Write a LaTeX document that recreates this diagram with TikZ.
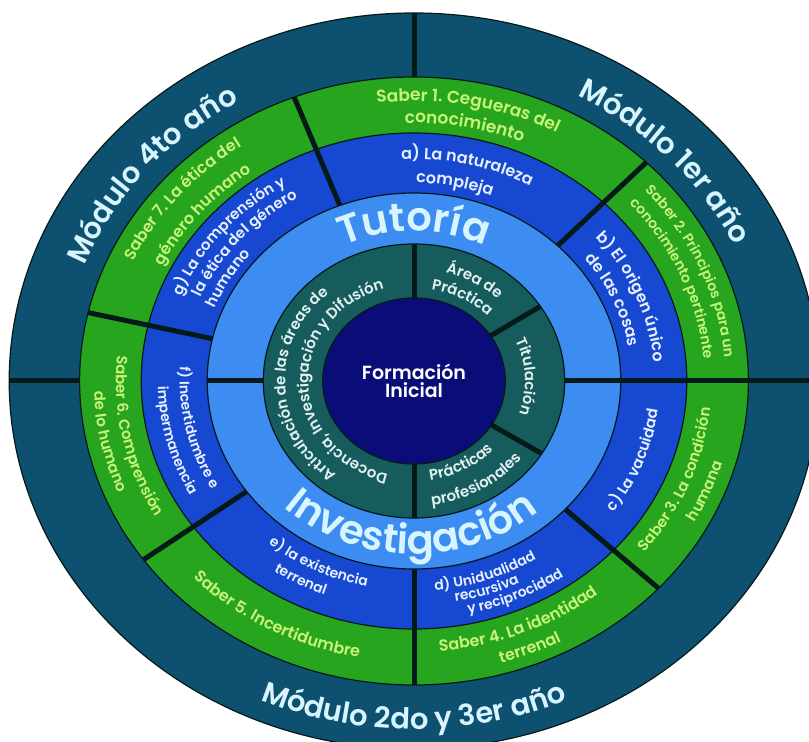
\documentclass[tikz,border=0pt]{standalone}
\usepackage{fontspec}
\setmainfont{Poppins}[BoldFont=*-SemiBold]
\usetikzlibrary{decorations.text}
\definecolor{modulo}{RGB}{14,80,112}
\definecolor{saber}{RGB}{40,165,30}
\definecolor{contenido}{RGB}{22,72,210}
\definecolor{eje}{RGB}{60,140,242}
\definecolor{area}{RGB}{22,92,92}
\definecolor{nucleo}{RGB}{10,12,120}
\definecolor{linea}{RGB}{4,26,24}
\definecolor{modtxt}{RGB}{215,245,255}
\definecolor{sabtxt}{RGB}{200,245,120}
\definecolor{conttxt}{RGB}{230,240,255}
\definecolor{ejetxt}{RGB}{215,245,255}
\definecolor{areatxt}{RGB}{225,240,240}
\tikzset{divisor/.style={line width=5pt,draw=linea}}
\begin{document}
\begin{tikzpicture}[x=1pt,y=1pt,line join=round]
\def\rA{83} \def\rB{137} \def\rC{188} \def\rD{248} \def\rE{304} \def\rF{368}
\def\arctxt#1#2#3#4#5#6{\path[decorate,decoration={text along path,text align=center,text color=#5,text={|\fontsize{#4}{#4}\selectfont\bfseries|#6}}] (#2:#1) arc[start angle=#2,end angle=#3,radius=#1];}
\useasboundingbox (0,0) rectangle (809,742);
\clip (0,0) rectangle (809,742);
\begin{scope}[shift={(414,361)},xscale=1.1]
\foreach \rad/\col in {\rF/modulo,\rE/saber,\rD/contenido,\rC/eje,\rB/area,\rA/nucleo}
  \filldraw[fill=\col,draw=linea,line width=1.2pt] (0,0) circle(\rad);
\foreach \a/\ri/\ro in {0/\rB/\rF,180/\rB/\rC,180/\rE/\rF,90/\rE/\rF,111/\rC/\rE,46/\rC/\rE,-43/\rC/\rE,-90/\rC/\rE,216/\rC/\rE,167/\rC/\rE,90/\rA/\rB,33/\rA/\rB,-32/\rA/\rB,-90/\rA/\rB}
  \draw[divisor] (\a:\ri)--(\a:\ro);
\arctxt{321}{80}{6}{29}{modtxt}{Módulo 1er año}
\arctxt{321}{177}{103}{29}{modtxt}{Módulo 4to año}
\arctxt{348}{225}{315}{29}{modtxt}{Módulo 2do y 3er año}
\arctxt{280}{110}{49}{17}{sabtxt}{Saber 1. Cegueras del}
\arctxt{258}{110}{49}{17}{sabtxt}{conocimiento}
\arctxt{283}{58}{-12}{14}{sabtxt}{Saber 2. Principios para un}
\arctxt{264}{58}{-12}{14}{sabtxt}{conocimiento pertinente}
\arctxt{271}{-57}{13}{15}{sabtxt}{Saber 3. La condición}
\arctxt{292}{-57}{13}{15}{sabtxt}{humana}
\arctxt{271}{-103}{-33}{16}{sabtxt}{Saber 4. La identidad}
\arctxt{293}{-103}{-33}{16}{sabtxt}{terrenal}
\arctxt{281}{205}{278}{16}{sabtxt}{Saber 5. Incertidumbre}
\arctxt{271}{157}{227}{15}{sabtxt}{Saber 6. Comprensión}
\arctxt{291}{157}{227}{15}{sabtxt}{de lo humano}
\arctxt{282}{175}{105}{16}{sabtxt}{Saber 7. La ética del}
\arctxt{256}{175}{105}{16}{sabtxt}{género humano}
\arctxt{222}{112}{42}{16}{conttxt}{a) La naturaleza}
\arctxt{198}{114}{44}{16}{conttxt}{compleja}
\arctxt{219}{58}{-13}{16}{conttxt}{b) El origen único}
\arctxt{198}{59}{-12}{16}{conttxt}{de las cosas}
\arctxt{224}{-56}{14}{15}{conttxt}{c) La vacuidad}
\arctxt{210}{-106}{-36}{14}{conttxt}{d) Unidualidad}
\arctxt{224}{-107}{-37}{14}{conttxt}{recursiva}
\arctxt{238}{-101}{-31}{14}{conttxt}{y reciprocidad}
\arctxt{210}{209}{279}{14}{conttxt}{e) la existencia}
\arctxt{229}{207}{277}{14}{conttxt}{terrenal}
\arctxt{213}{158}{228}{14}{conttxt}{f) Incertidumbre e}
\arctxt{233}{160}{230}{14}{conttxt}{impermanencia}
\arctxt{228}{175}{105}{15}{conttxt}{g) La comprensión y}
\arctxt{211}{174}{104}{15}{conttxt}{la ética del género}
\arctxt{195}{185}{114}{15}{conttxt}{humano}
\arctxt{150}{150}{30}{40}{ejetxt}{Tutoría}
\arctxt{173}{204}{334}{40}{ejetxt}{Investigación}
\arctxt{117}{270}{94}{15}{areatxt}{Articulación de las áreas de}
\arctxt{96}{272}{90}{15}{areatxt}{Docencia, Investigación y Difusión}
\arctxt{112}{96}{25}{15}{areatxt}{Área de}
\arctxt{93}{97}{26}{15}{areatxt}{Práctica}
\arctxt{101}{38}{-33}{15}{areatxt}{Titulación}
\arctxt{100}{-97}{-27}{15}{areatxt}{Prácticas}
\arctxt{125}{-95}{-25}{15}{areatxt}{profesionales}
\node[align=center,text=white,font=\fontsize{19}{18}\selectfont\bfseries] (centro) at (0,0) {Formación\\Inicial};
\end{scope}
\end{tikzpicture}
\end{document}
